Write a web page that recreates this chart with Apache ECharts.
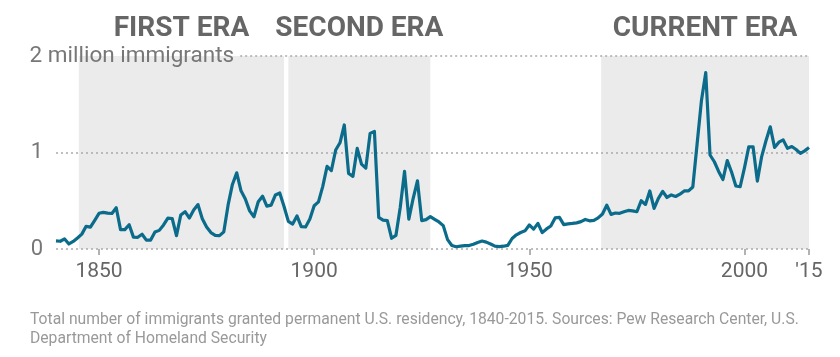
<!DOCTYPE html>
<html>
<head>
<meta charset="utf-8">
<script src="https://cdn.jsdelivr.net/npm/echarts@6/dist/echarts.min.js"></script>
<style>html,body{margin:0;padding:0;background:#fff}#c{width:840px;height:357px}</style>
</head>
<body>
<div id="c"></div>
<script>
// Immigrants granted permanent residency (millions), one value per year from 1840 to 2015
const firstYear = 1840;
const immigrants = [
  0.084,0.080,0.104,0.052,0.078,0.114,0.154,0.235,0.227,0.297, // 1840s
  0.370,0.379,0.371,0.368,0.428,0.201,0.201,0.251,0.123,0.121, // 1850s
  0.153,0.092,0.092,0.176,0.193,0.249,0.319,0.316,0.139,0.353, // 1860s
  0.387,0.321,0.405,0.460,0.313,0.227,0.170,0.142,0.138,0.178, // 1870s
  0.457,0.669,0.789,0.603,0.519,0.395,0.334,0.490,0.547,0.444, // 1880s
  0.455,0.560,0.580,0.440,0.286,0.259,0.343,0.231,0.229,0.312, // 1890s
  0.449,0.488,0.649,0.857,0.813,1.026,1.101,1.285,0.783,0.752, // 1900s
  1.042,0.879,0.838,1.198,1.218,0.327,0.299,0.295,0.111,0.141, // 1910s
  0.430,0.805,0.310,0.523,0.707,0.294,0.304,0.335,0.307,0.280, // 1920s
  0.242,0.097,0.036,0.023,0.029,0.035,0.036,0.050,0.068,0.083, // 1930s
  0.071,0.052,0.029,0.024,0.029,0.038,0.109,0.147,0.171,0.188, // 1940s
  0.249,0.206,0.266,0.170,0.208,0.238,0.322,0.327,0.253,0.261, // 1950s
  0.265,0.271,0.284,0.306,0.292,0.297,0.323,0.362,0.454,0.359, // 1960s
  0.373,0.370,0.385,0.400,0.395,0.386,0.500,0.462,0.601,0.420, // 1970s
  0.524,0.597,0.534,0.560,0.544,0.568,0.602,0.602,0.643,1.091, // 1980s
  1.536,1.827,0.974,0.904,0.804,0.720,0.916,0.798,0.653,0.645, // 1990s
  0.841,1.059,1.059,0.704,0.958,1.122,1.266,1.052,1.107,1.131, // 2000s
  1.043,1.062,1.031,0.991,1.017,1.051                           // 2010s
];
const eraNames = ['FIRST ERA', 'SECOND ERA', 'CURRENT ERA'];
const eraStarts = [1845.3, 1894, 1966.7];
const eraEnds = [1893, 1927, 2015];
const xTicks = [1850, 1900, 1950, 2000, 2015];
const yTopLabel = '2 million immigrants';
const footnote = 'Total number of immigrants granted permanent U.S. residency, 1840-2015. Sources: Pew Research Center, U.S.\nDepartment of Homeland Security';

const seriesData = immigrants.map((v, i) => [firstYear + i, v]);
const FONT = 'Roboto, "Liberation Sans", sans-serif';
const dotted = {color: '#aaa', type: [2, 3], width: 1.5};

const chart = echarts.init(document.getElementById('c'), null, {renderer: 'canvas'});
chart.setOption({
  animation: false,
  backgroundColor: '#fff',
  title: {
    text: footnote,
    left: 25, top: 306,
    textStyle: {fontFamily: FONT, fontSize: 15.7, fontWeight: 'normal', color: '#999', lineHeight: 19}
  },
  grid: {left: 56, right: 31, top: 56, bottom: 108},
  xAxis: {
    type: 'value', min: 1840, max: 2015, z: 3,
    axisLine: {show: false},
    splitLine: {show: false},
    axisTick: {show: true, customValues: xTicks, length: 6, lineStyle: {color: '#999', width: 1.5}},
    axisLabel: {
      customValues: xTicks, margin: 12,
      fontFamily: FONT, fontSize: 21, color: '#666',
      formatter: v => v === 2015 ? "'15" : String(v)
    }
  },
  yAxis: {
    type: 'value', min: 0, max: 2, interval: 1, z: 3,
    axisLine: {show: false}, axisTick: {show: false},
    axisLabel: {
      margin: 13, fontFamily: FONT, fontSize: 22, color: '#777',
      formatter: v => v === 2 ? '' : String(v)
    },
    splitLine: {show: true, lineStyle: {color: ['#aaa', '#aaa', 'transparent'], type: [2, 3], width: 1.5}}
  },
  series: [{
    type: 'line',
    data: seriesData,
    showSymbol: false,
    lineStyle: {opacity: 0},
    silent: true,
    z: 1,
    markArea: {
      silent: true,
      itemStyle: {color: '#ebebeb'},
      label: {
        show: true, position: 'top', distance: 13,
        fontFamily: FONT, fontSize: 28, fontWeight: 'bold', color: '#666'
      },
      data: eraNames.map((n, i) => [{name: n, xAxis: eraStarts[i], yAxis: 2}, {xAxis: eraEnds[i], yAxis: 0}])
    }
  }, {
    type: 'line',
    data: seriesData,
    showSymbol: false,
    lineStyle: {color: '#0b6b8a', width: 3.2, join: 'round'},
    z: 5,
    markLine: {
      silent: true, symbol: 'none',
      lineStyle: dotted,
      label: {
        show: true, position: 'start', distance: 6,
        fontFamily: FONT, fontSize: 22.5, color: '#777',
        formatter: yTopLabel
      },
      data: [[{xAxis: 1882.8, yAxis: 2}, {xAxis: 2015, yAxis: 2}]]
    }
  }]
});
</script>
</body>
</html>
